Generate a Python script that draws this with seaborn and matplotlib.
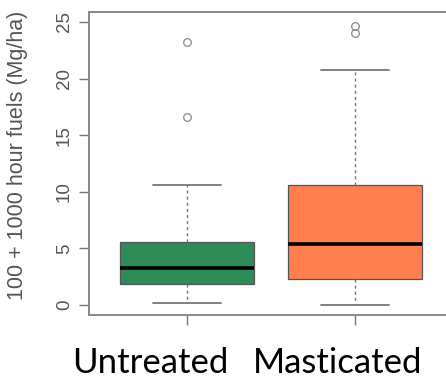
import matplotlib
matplotlib.use("Agg")
import matplotlib.pyplot as plt
import seaborn as sns
import pandas as pd

# Data
untreated = [0.15, 1.0, 1.6, 1.9, 2.5, 2.9, 3.3, 4.1, 5.0, 5.6, 10.6, 16.6, 23.2]
masticated = [0.0, 1.0, 1.8, 2.3, 3.4, 4.5, 5.35, 7.0, 9.0, 10.6, 20.8, 24.0, 24.6]
categories = ["Untreated", "Masticated"]
colors = ["#2E8B57", "#FF7F50"]
y_ticks = [0, 5, 10, 15, 20, 25]
y_label = "100 + 1000 hour fuels (Mg/ha)"

df = pd.DataFrame({
    "group": [categories[0]] * len(untreated) + [categories[1]] * len(masticated),
    "value": untreated + masticated,
})

sns.set_style("white")
plt.rcParams["font.family"] = ["Liberation Sans", "DejaVu Sans"]

fig = plt.figure(figsize=(4.46, 3.81), dpi=100)
ax = fig.add_axes([89 / 446, 1 - 315 / 381, 363 / 446, 303 / 381])

sns.boxplot(
    data=df, x="group", y="value", hue="group", order=categories,
    palette=colors, width=0.8, ax=ax, legend=False, saturation=1,
    boxprops=dict(edgecolor="#555555", linewidth=0.9),
    medianprops=dict(color="black", linewidth=2.6),
    whiskerprops=dict(color="#777777", linewidth=1.0, linestyle=(0, (2.2, 2.2))),
    capprops=dict(color="#777777", linewidth=1.3),
    flierprops=dict(marker="o", markersize=5.5, markerfacecolor="none",
                    markeredgecolor="#888888", markeredgewidth=0.9),
)

ax.set_xlim(-0.583, 1.577)
ax.set_ylim(-0.88, 25.88)
ax.set_yticks(y_ticks)
ax.set_yticklabels([str(t) for t in y_ticks], rotation=90, va="center",
                   fontsize=13.5, color="#555555")
ax.set_xticks([0, 1])
ax.set_xticklabels([])
ax.set_xlabel("")
ax.set_ylabel("")
ax.tick_params(axis="both", direction="out", length=7.5, width=1.0,
               color="#777777", left=True, bottom=True, pad=4)

for side in ["left", "right", "top", "bottom"]:
    ax.spines[side].set_color("#888888")
    ax.spines[side].set_linewidth(1.4)
    ax.spines[side].set_visible(True)

fig.text(18 / 446, 1 - 155 / 381, y_label, rotation=90, ha="center", va="center",
         fontsize=15.5, color="#555555")

label_x = [150 / 446, 338 / 446]
for cat, lx in zip(categories, label_x):
    fig.text(lx, 0.004, cat, ha="center", va="bottom",
             fontsize=25, color="black", family=["Lato", "DejaVu Sans"])

fig.savefig("out.png", dpi=100, facecolor="white")
